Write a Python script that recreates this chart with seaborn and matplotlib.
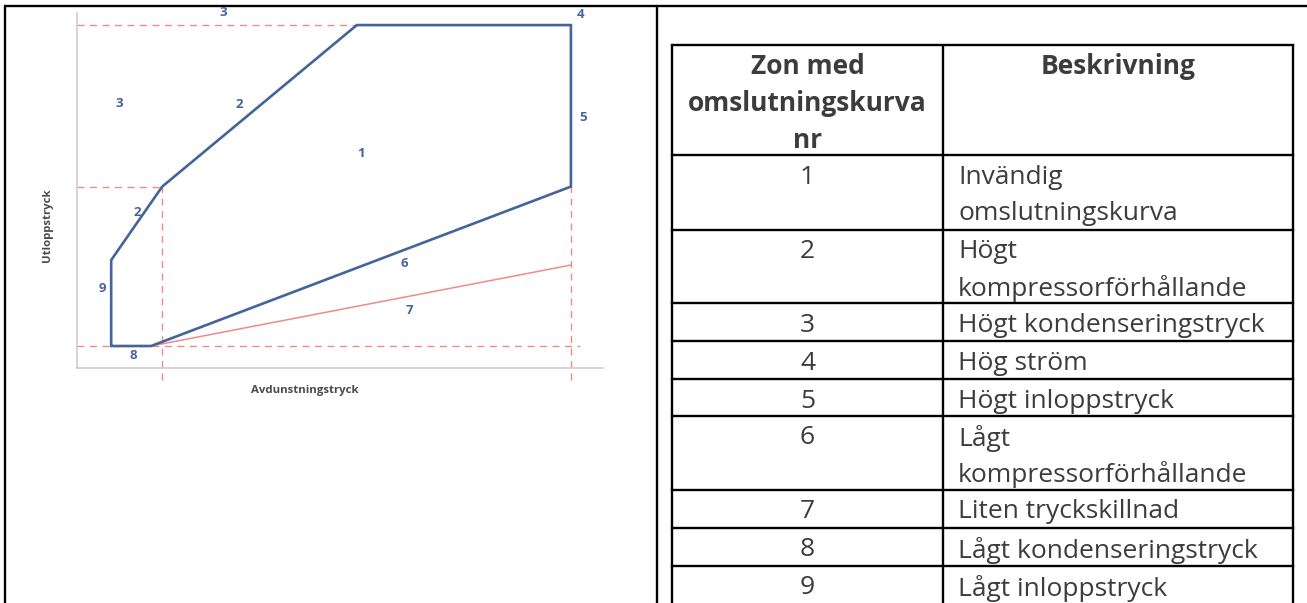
import matplotlib
matplotlib.use("Agg")
import matplotlib.pyplot as plt
import seaborn as sns
import pandas as pd

# ---------------- data ----------------
# envelope polygon (evaporating pressure, discharge pressure) in relative units
env_x = [6.5, 6.5, 16.2, 53.2, 93.9, 93.9, 14.1, 6.5]
env_y = [6.2, 30.4, 51.1, 96.6, 96.6, 51.1, 6.2, 6.2]
# zone 7 line (small pressure difference)
z7_x = [14.1, 93.9]
z7_y = [6.2, 29.0]
# guide lines
guide_h_y = [96.6, 51.1, 6.2]
guide_h_x1 = [53.2, 16.2, 95.6]
guide_v_x = [16.2, 93.9]
guide_v_y1 = [51.1, 51.1]
# zone labels
zone_lbl = ["3", "4", "5", "3", "2", "1", "2", "9", "8", "6", "7"]
zone_x = [27.8, 95.8, 96.2, 8.0, 30.8, 54.0, 11.4, 4.9, 10.8, 62.2, 63.1]
zone_y = [100.2, 99.5, 70.7, 74.6, 74.1, 60.3, 43.9, 22.5, 3.5, 29.3, 16.3]
x_label = "Avdunstningstryck"
y_label = "Utloppstryck"

# table
tbl_head = ["Zon med\nomslutningskurva\nnr", "Beskrivning"]
tbl_nr = ["1", "2", "3", "4", "5", "6", "7", "8", "9"]
tbl_desc = ["Invändig\nomslutningskurva", "Högt\nkompressorförhållande",
            "Högt kondenseringstryck", "Hög ström", "Högt inloppstryck",
            "Lågt\nkompressorförhållande", "Liten tryckskillnad",
            "Lågt kondenseringstryck", "Lågt inloppstryck"]

# ---------------- style ----------------
sns.set_theme(style="white")
plt.rcParams['font.family'] = ['Open Sans', 'DejaVu Sans']

W, H = 1307, 603
fig = plt.figure(figsize=(W / 100, H / 100), dpi=100)

# overlay axes in pixel coordinates for frame + table
ov = fig.add_axes([0, 0, 1, 1])
ov.set_xlim(0, W)
ov.set_ylim(H, 0)
ov.axis("off")

lw = 1.7
ov.plot([4, W], [6, 6], color="black", lw=lw, solid_capstyle="butt")
ov.plot([5, 5], [6, H], color="black", lw=lw)
ov.plot([657, 657], [6, H], color="black", lw=lw)

# table geometry (pixels)
tx0, tx1, tx2 = 672, 943, 1293
row_edges = [45, 155, 230, 303, 341, 379, 416, 490, 528, 566]
line_h = 36.7
for y in row_edges:
    ov.plot([tx0, tx2], [y, y], color="black", lw=lw, solid_capstyle="projecting")
for x in (tx0, tx1, tx2):
    ov.plot([x, x], [row_edges[0], H], color="black", lw=lw)

tcol = "#3c3c3c"
fs = 19
off = 22
hdr_lines = tbl_head[0].split("\n")
for i, s in enumerate(hdr_lines):
    ov.text((tx0 + tx1) / 2, row_edges[0] + off + i * line_h, s, ha="center",
            va="center", fontsize=fs, fontweight="bold", color=tcol)
ov.text((tx1 + tx2) / 2, row_edges[0] + off, tbl_head[1], ha="center", va="center",
        fontsize=fs, fontweight="bold", color=tcol)

row_tops = row_edges[1:]
for top, nr, desc in zip(row_tops, tbl_nr, tbl_desc):
    ov.text((tx0 + tx1) / 2, top + off, nr, ha="center", va="center",
            fontsize=fs, color=tcol)
    for i, s in enumerate(desc.split("\n")):
        ov.text(958, top + off + i * line_h, s, ha="left", va="center",
                fontsize=fs, color=tcol)

# ---------------- chart ----------------
ax = fig.add_axes([77 / W, (H - 368) / H, 526 / W, 355 / H])
ax.set_xlim(0, 100)
ax.set_ylim(0, 100)
ax.set_facecolor("none")
for s in ("top", "right"):
    ax.spines[s].set_visible(False)
for s in ("left", "bottom"):
    ax.spines[s].set_color("#c9c9c9")
    ax.spines[s].set_linewidth(1.1)
ax.set_xticks([])
ax.set_yticks([])

red = "#f08a8a"
blue = "#44649a"
dash = (0, (5, 4))
for y, x1 in zip(guide_h_y, guide_h_x1):
    ax.plot([0, x1], [y, y], color=red, lw=1.0, linestyle=dash, clip_on=False)
for x, y1 in zip(guide_v_x, guide_v_y1):
    ax.plot([x, x], [-3.4, y1], color=red, lw=1.0, linestyle=dash, clip_on=False)

df7 = pd.DataFrame({"x": z7_x, "y": z7_y})
sns.lineplot(data=df7, x="x", y="y", ax=ax, color=red, lw=1.1, sort=False, estimator=None)

dfe = pd.DataFrame({"x": env_x, "y": env_y})
sns.lineplot(data=dfe, x="x", y="y", ax=ax, color=blue, lw=1.9, sort=False,
             estimator=None)
ax.lines[-1].set_solid_joinstyle("miter")
ax.lines[-1].set_clip_on(False)

for s, x, y in zip(zone_lbl, zone_x, zone_y):
    ax.text(x, y, s, ha="center", va="center", fontsize=9.5, fontweight="bold",
            color=blue, clip_on=False)

ax.set_xlabel("")
ax.set_ylabel("")
ax.text(43.3, -6.2, x_label, ha="center", va="center", fontsize=8.2,
        fontweight="bold", color="#4a4a4a", clip_on=False)
ax.text(-5.7, 40.3, y_label, ha="center", va="center", rotation=90, fontsize=8.2,
        fontweight="bold", color="#4a4a4a", clip_on=False)

fig.savefig("out.png", dpi=100)
